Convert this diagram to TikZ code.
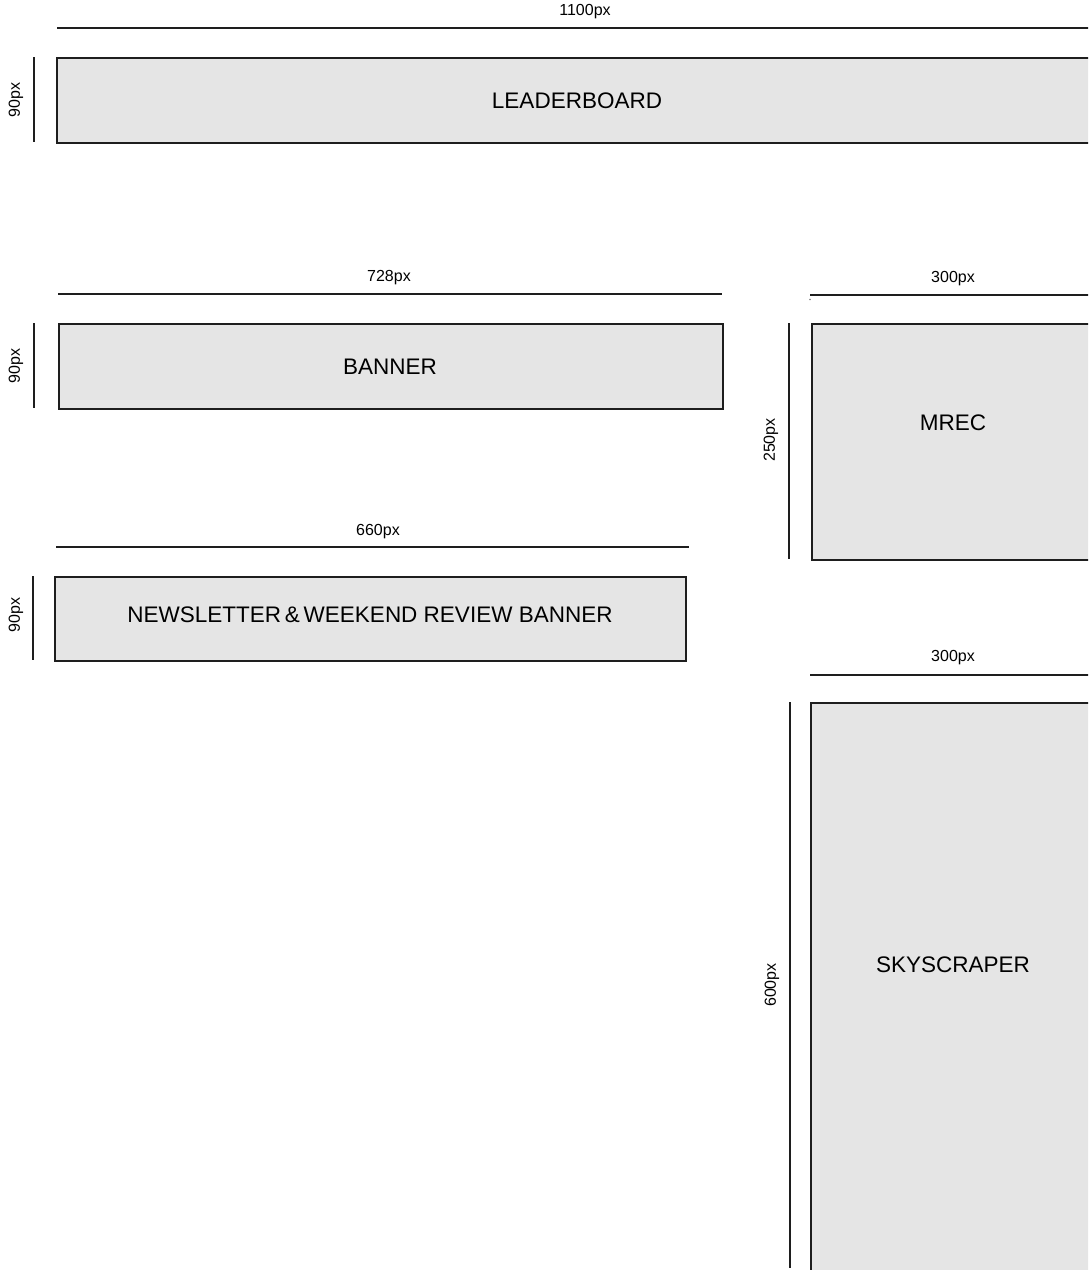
\documentclass[tikz,border=0pt]{standalone}
\usepackage{fontspec}
\setmainfont{Liberation Sans}
\definecolor{boxfill}{HTML}{E5E5E5}
\definecolor{ink}{HTML}{1E1E1E}
\begin{document}
\begin{tikzpicture}[x=1pt,y=-1pt,
  adbox/.style={draw=ink,line width=1.5pt,fill=boxfill,inner sep=0pt,anchor=north west},
  adtext/.style={font=\fontsize{22.5}{26}\selectfont,text=black,inner sep=0pt},
  dimline/.style={draw=ink,line width=1.1pt},
  dimlabel/.style={font=\fontsize{16}{18}\selectfont,text=black,inner sep=0pt},
  vlabel/.style={dimlabel,rotate=90}]
\useasboundingbox (0,0) rectangle (1088,1270);
\clip (0,0) rectangle (1088,1270);
\fill[white] (0,0) rectangle (1088,1270);

% LEADERBOARD
\node[adbox,minimum width=1100pt,minimum height=85pt] (lb) at (56,57) {};
\node[adtext] (lbt) at (577,101) {LEADERBOARD};
\coordinate (lbdA) at (57,28); \coordinate (lbdB) at (1100,28);
\draw[dimline] (lbdA) -- (lbdB);
\node[dimlabel] (lbw) at (585,12) {1100px};
\coordinate (lbvA) at (34,57); \coordinate (lbvB) at (34,142);
\draw[dimline] (lbvA) -- (lbvB);
\node[vlabel] (lbh) at (16,100) {90px};

% BANNER
\node[adbox,minimum width=664pt,minimum height=85pt] (bn) at (58,323) {};
\node[adtext] (bnt) at (390,367) {BANNER};
\coordinate (bndA) at (58,294); \coordinate (bndB) at (722,294);
\draw[dimline] (bndA) -- (bndB);
\node[dimlabel] (bnw) at (389,278) {728px};
\coordinate (bnvA) at (34,323); \coordinate (bnvB) at (34,408);
\draw[dimline] (bnvA) -- (bnvB);
\node[vlabel] (bnh) at (16,366) {90px};

% NEWSLETTER
\node[adbox,minimum width=631pt,minimum height=84pt] (nl) at (54,576) {};
\node[adtext] (nlt) at (370,615) {NEWSLETTER\,\&\,WEEKEND REVIEW BANNER};
\coordinate (nldA) at (56,547); \coordinate (nldB) at (689,547);
\draw[dimline] (nldA) -- (nldB);
\node[dimlabel] (nlw) at (378,532) {660px};
\coordinate (nlvA) at (33,576); \coordinate (nlvB) at (33,660);
\draw[dimline] (nlvA) -- (nlvB);
\node[vlabel] (nlh) at (16,615) {90px};

% MREC
\node[adbox,minimum width=320pt,minimum height=236pt] (mr) at (811,323) {};
\node[adtext] (mrt) at (953,423) {MREC};
\coordinate (mrdA) at (810,295); \coordinate (mrdB) at (1100,295);
\draw[dimline] (mrdA) -- (mrdB);
\fill[gray] (810,299.5) circle (0.8pt);
\node[dimlabel] (mrw) at (953,279) {300px};
\coordinate (mrvA) at (789,323); \coordinate (mrvB) at (789,559);
\draw[dimline] (mrvA) -- (mrvB);
\node[vlabel] (mrh) at (771,440) {250px};

% SKYSCRAPER
\node[adbox,minimum width=320pt,minimum height=600pt] (sk) at (810,702) {};
\node[adtext] (skt) at (953,965) {SKYSCRAPER};
\coordinate (skdA) at (810,675); \coordinate (skdB) at (1100,675);
\draw[dimline] (skdA) -- (skdB);
\node[dimlabel] (skw) at (953,658) {300px};
\coordinate (skvA) at (790,702); \coordinate (skvB) at (790,1268);
\draw[dimline] (skvA) -- (skvB);
\node[vlabel] (skh) at (772,985) {600px};
\end{tikzpicture}
\end{document}
